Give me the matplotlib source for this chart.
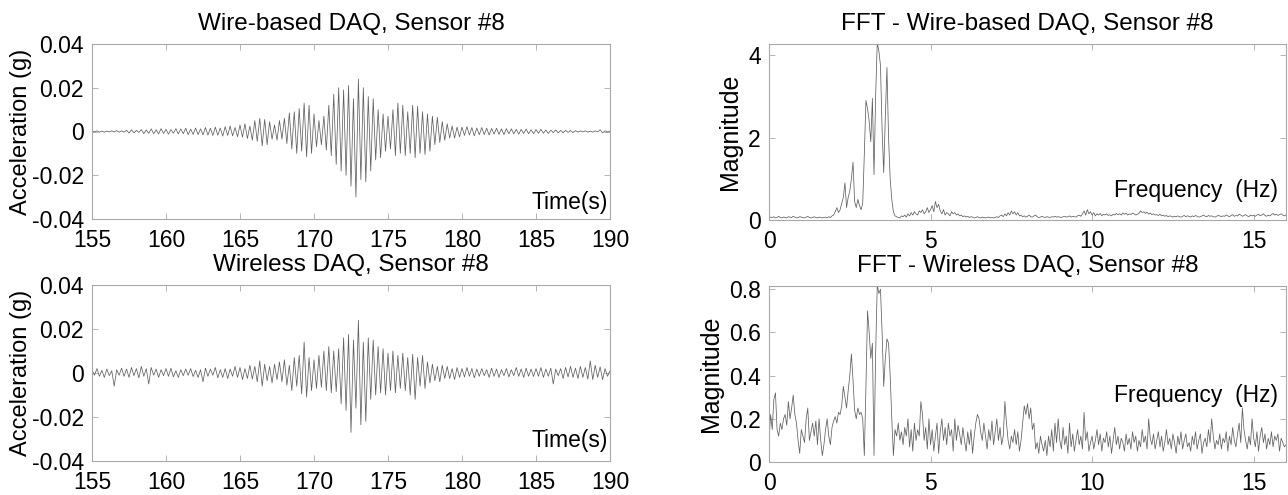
import numpy as np
import matplotlib
matplotlib.use("Agg")
from matplotlib import pyplot as plt

plt.rcParams['font.family'] = ['Liberation Sans', 'DejaVu Sans']
plt.rcParams['axes.unicode_minus'] = False

# acceleration peaks/troughs in milli-g, six per second from 155 s to 190 s
wire_mg = [
    0.3, -0.2, 0.3, -0.3, 0.2, -0.3,
    0.2, -0.2, 0.3, -0.2, 0.4, -0.3,
    0.3, -0.3, 0.6, -0.7, 0.8, -0.6,
    0.5, -0.4, 0.9, -1.0, 0.7, -0.8,
    1.2, -1.0, 0.8, -1.1, 1.3, -0.9,
    1.0, -1.2, 0.9, -0.8, 1.3, -1.1,
    1.2, -1.0, 1.5, -1.4, 1.1, -1.3,
    1.6, -1.4, 1.2, -1.5, 1.8, -1.6,
    1.5, -1.8, 2.0, -1.7, 1.6, -2.1,
    2.2, -1.8, 2.5, -2.0, 1.8, -2.4,
    3.0, -2.6, 3.5, -3.2, 2.5, -4.0,
    5.0, -4.5, 6.0, -6.5, 5.5, -6.0,
    4.5, -3.5, 3.0, -4.0, 5.0, -3.5,
    6.0, -5.5, 8.5, -8.0, 9.0, -10.0,
    10.5, -9.0, 13.0, -11.5, 12.0, -10.0,
    8.0, -7.0, 5.0, -6.0, 7.0, -8.5,
    12.0, -11.0, 17.0, -15.0, 20.0, -18.0,
    19.0, -20.0, 21.0, -25.0, 15.0, -30.0,
    24.0, -22.0, 20.0, -23.0, 16.0, -18.0,
    15.0, -13.0, 10.0, -12.0, 8.0, -9.0,
    7.0, -8.0, 10.0, -11.0, 13.0, -10.0,
    12.0, -11.0, 9.0, -10.0, 12.0, -12.0,
    11.5, -10.0, 9.0, -10.5, 8.0, -9.0,
    7.0, -6.0, 6.5, -5.0, 4.5, -4.0,
    3.5, -3.0, 2.5, -3.0, 2.0, -2.5,
    2.0, -1.8, 2.2, -1.6, 1.8, -2.0,
    1.6, -1.5, 1.8, -1.4, 1.5, -1.6,
    1.4, -1.2, 1.5, -1.3, 1.2, -1.4,
    1.3, -1.0, 1.2, -1.1, 1.0, -1.2,
    1.0, -0.9, 1.1, -1.0, 0.8, -1.0,
    0.9, -0.8, 1.0, -0.8, 0.7, -0.9,
    0.6, -0.5, 0.7, -0.6, 0.5, -0.6,
    0.5, -0.4, 0.4, -0.5, 0.4, -0.3,
    0.3, -0.2, 0.3, -0.3, 0.2, -0.3,
    0.3, -0.2, 0.8, -0.6, 0.3, -0.2,
    0.2,
]

wireless_mg = [
    1.5, -1.0, 2.0, -1.5, 1.2, -2.0,
    1.8, -1.2, 1.0, -6.0, 1.5, -1.0,
    2.2, -1.5, 1.8, -2.0, 2.5, -1.2,
    2.0, -2.2, 3.0, -1.5, 2.0, -5.0,
    2.5, -1.0, 1.8, -2.0, 1.5, -1.2,
    2.0, -1.5, 2.2, -1.8, 1.0, -2.0,
    1.5, -1.2, 1.8, -1.0, 2.0, -1.6,
    1.2, -2.0, 1.5, -4.0, 2.2, -1.5,
    1.8, -1.0, 2.5, -2.2, 1.5, -2.0,
    2.0, -2.5, 1.8, -1.5, 3.0, -2.0,
    2.5, -3.0, 2.0, -2.5, 3.5, -2.8,
    3.0, -4.0, 5.5, -6.0, 4.0, -3.5,
    3.0, -4.5, 4.0, -3.0, 5.0, -4.0,
    6.0, -5.5, 3.5, -8.0, 7.0, -6.0,
    8.0, -9.5, 14.0, -11.0, 7.0, -8.0,
    6.0, -7.0, 8.0, -6.5, 10.0, -8.0,
    12.0, -9.0, 10.0, -8.5, 11.0, -14.0,
    16.0, -17.0, 17.5, -27.0, 15.0, -16.0,
    24.0, -23.5, 14.0, -22.0, 16.0, -12.0,
    15.0, -10.0, 12.0, -9.0, 11.0, -10.0,
    9.0, -8.0, 10.0, -9.0, 8.0, -7.0,
    9.0, -8.0, 7.0, -10.0, 8.5, -12.0,
    7.0, -6.0, 8.0, -7.0, 5.0, -4.5,
    4.0, -3.5, 3.0, -4.0, 3.5, -2.5,
    3.0, -2.5, 2.0, -3.0, 2.5, -2.0,
    2.0, -1.8, 2.5, -1.5, 2.0, -2.2,
    1.8, -1.5, 2.0, -1.2, 1.5, -2.0,
    2.2, -1.5, 1.8, -2.0, 1.5, -1.2,
    2.0, -1.8, 1.5, -1.2, 2.5, -1.5,
    1.8, -2.0, 2.2, -1.5, 1.8, -1.6,
    2.0, -1.5, 2.5, -2.0, 1.8, -1.5,
    2.2, -5.0, 1.8, -1.2, 2.0, -2.5,
    2.5, -1.8, 3.0, -2.0, 2.2, -2.5,
    3.0, -2.0, 2.5, -2.8, 5.5, -3.0,
    3.5, -2.0, 2.8, -3.0, 2.0, -1.5,
    1.0,
]

# FFT magnitudes, 0 to 16 Hz every 0.05 Hz
fft_wire = [
    0.05, 0.07, 0.06, 0.08, 0.05, 0.06, 0.09, 0.06, 0.05, 0.07, 0.06, 0.05, 0.08, 0.07, 0.06, 0.09, 0.07, 0.05, 0.06, 0.08,
    0.07, 0.06, 0.05, 0.07, 0.09, 0.06, 0.05, 0.06, 0.08, 0.06, 0.05, 0.07, 0.06, 0.05, 0.06, 0.07, 0.05, 0.08, 0.06, 0.10,
    0.12, 0.20, 0.30, 0.18, 0.25, 0.40, 0.55, 0.90, 0.30, 0.55, 0.70, 1.00, 1.40, 0.45, 0.30, 0.50, 0.35, 0.25, 0.40, 1.60,
    2.90, 2.70, 2.40, 1.90, 2.95, 1.10, 3.00, 4.30, 4.10, 3.75, 2.20, 1.15, 2.50, 3.70, 2.00, 1.00, 0.50, 0.20, 0.10, 0.08,
    0.06, 0.05, 0.10, 0.08, 0.12, 0.07, 0.15, 0.10, 0.18, 0.12, 0.20, 0.15, 0.12, 0.22, 0.18, 0.25, 0.15, 0.20, 0.30, 0.18,
    0.25, 0.35, 0.20, 0.45, 0.30, 0.38, 0.22, 0.15, 0.25, 0.12, 0.18, 0.15, 0.10, 0.20, 0.15, 0.18, 0.12, 0.15, 0.10, 0.12,
    0.08, 0.10, 0.07, 0.09, 0.06, 0.08, 0.07, 0.05, 0.06, 0.08, 0.06, 0.05, 0.07, 0.06, 0.05, 0.06, 0.07, 0.05, 0.06, 0.05,
    0.06, 0.08, 0.06, 0.10, 0.12, 0.08, 0.15, 0.10, 0.18, 0.12, 0.22, 0.15, 0.20, 0.12, 0.18, 0.10, 0.12, 0.08, 0.10, 0.07,
    0.09, 0.12, 0.08, 0.07, 0.10, 0.12, 0.08, 0.06, 0.07, 0.09, 0.07, 0.06, 0.08, 0.07, 0.06, 0.08, 0.07, 0.09, 0.07, 0.08,
    0.07, 0.06, 0.08, 0.09, 0.07, 0.08, 0.10, 0.07, 0.09, 0.08, 0.07, 0.10, 0.12, 0.09, 0.15, 0.22, 0.12, 0.25, 0.15, 0.20,
    0.12, 0.18, 0.10, 0.15, 0.12, 0.16, 0.10, 0.14, 0.12, 0.15, 0.11, 0.13, 0.10, 0.14, 0.12, 0.16, 0.13, 0.15, 0.12, 0.17,
    0.14, 0.16, 0.12, 0.15, 0.13, 0.17, 0.15, 0.12, 0.14, 0.16, 0.22, 0.18, 0.20, 0.16, 0.19, 0.14, 0.17, 0.13, 0.15, 0.12,
    0.13, 0.11, 0.14, 0.10, 0.12, 0.09, 0.11, 0.08, 0.10, 0.09, 0.07, 0.09, 0.08, 0.10, 0.08, 0.07, 0.09, 0.11, 0.08, 0.10,
    0.09, 0.07, 0.10, 0.08, 0.11, 0.09, 0.07, 0.08, 0.10, 0.12, 0.09, 0.08, 0.11, 0.09, 0.10, 0.08, 0.07, 0.09, 0.11, 0.10,
    0.08, 0.10, 0.09, 0.12, 0.10, 0.08, 0.11, 0.13, 0.09, 0.11, 0.10, 0.14, 0.12, 0.09, 0.11, 0.13, 0.10, 0.08, 0.12, 0.10,
    0.11, 0.09, 0.12, 0.14, 0.10, 0.12, 0.15, 0.11, 0.09, 0.12, 0.10, 0.13, 0.16, 0.12, 0.14, 0.11, 0.13, 0.15, 0.12, 0.10,
    0.12,
]

fft_wireless = [
    0.10, 0.22, 0.15, 0.29, 0.32, 0.15, 0.12, 0.18, 0.15, 0.20, 0.22, 0.17, 0.28, 0.20, 0.25, 0.31, 0.22, 0.18, 0.10, 0.04,
    0.15, 0.12, 0.09, 0.20, 0.25, 0.10, 0.14, 0.18, 0.12, 0.19, 0.08, 0.20, 0.10, 0.03, 0.08, 0.15, 0.20, 0.12, 0.08, 0.16,
    0.19, 0.21, 0.18, 0.23, 0.22, 0.26, 0.35, 0.30, 0.25, 0.33, 0.40, 0.50, 0.38, 0.24, 0.20, 0.25, 0.22, 0.23, 0.20, 0.03,
    0.35, 0.70, 0.60, 0.48, 0.55, 0.03, 0.50, 0.82, 0.78, 0.80, 0.60, 0.35, 0.48, 0.57, 0.55, 0.40, 0.20, 0.03, 0.15, 0.12,
    0.18, 0.10, 0.14, 0.08, 0.16, 0.12, 0.20, 0.07, 0.15, 0.05, 0.18, 0.10, 0.15, 0.12, 0.28, 0.22, 0.10, 0.16, 0.06, 0.20,
    0.08, 0.15, 0.05, 0.12, 0.18, 0.04, 0.14, 0.20, 0.10, 0.16, 0.08, 0.18, 0.12, 0.15, 0.05, 0.20, 0.10, 0.17, 0.13, 0.08,
    0.16, 0.10, 0.05, 0.14, 0.08, 0.15, 0.04, 0.12, 0.18, 0.22, 0.20, 0.14, 0.10, 0.18, 0.12, 0.06, 0.15, 0.10, 0.19, 0.08,
    0.14, 0.20, 0.10, 0.16, 0.08, 0.12, 0.28, 0.18, 0.10, 0.06, 0.12, 0.09, 0.15, 0.08, 0.14, 0.05, 0.10, 0.18, 0.26, 0.22,
    0.27, 0.20, 0.25, 0.15, 0.18, 0.06, 0.09, 0.04, 0.12, 0.08, 0.05, 0.10, 0.03, 0.12, 0.07, 0.15, 0.05, 0.18, 0.09, 0.20,
    0.10, 0.06, 0.16, 0.08, 0.12, 0.04, 0.18, 0.07, 0.13, 0.05, 0.10, 0.15, 0.08, 0.12, 0.06, 0.23, 0.10, 0.14, 0.05, 0.09,
    0.12, 0.06, 0.10, 0.15, 0.08, 0.13, 0.05, 0.11, 0.09, 0.14, 0.07, 0.12, 0.04, 0.10, 0.16, 0.08, 0.12, 0.06, 0.11, 0.09,
    0.05, 0.13, 0.08, 0.11, 0.06, 0.14, 0.09, 0.12, 0.05, 0.10, 0.07, 0.15, 0.09, 0.12, 0.06, 0.20, 0.11, 0.08, 0.13, 0.06,
    0.10, 0.14, 0.07, 0.12, 0.05, 0.09, 0.15, 0.08, 0.11, 0.06, 0.13, 0.09, 0.04, 0.12, 0.08, 0.14, 0.06, 0.10, 0.13, 0.07,
    0.09, 0.05, 0.12, 0.08, 0.14, 0.06, 0.10, 0.13, 0.04, 0.09, 0.11, 0.07, 0.15, 0.09, 0.20, 0.12, 0.06, 0.10, 0.08, 0.13,
    0.06, 0.11, 0.09, 0.14, 0.05, 0.12, 0.08, 0.16, 0.10, 0.07, 0.13, 0.18, 0.09, 0.25, 0.15, 0.10, 0.06, 0.12, 0.08, 0.20,
    0.11, 0.07, 0.14, 0.05, 0.12, 0.16, 0.09, 0.13, 0.06, 0.11, 0.08, 0.14, 0.07, 0.12, 0.10, 0.13, 0.05, 0.11, 0.09, 0.07,
    0.08,
]

t_start, t_end = 155, 190
f_max = 16

wire = np.array(wire_mg) / 1000.0
wireless = np.array(wireless_mg) / 1000.0
t_wire = np.linspace(t_start, t_end, len(wire))
t_wireless = np.linspace(t_start, t_end, len(wireless))
f_wire = np.linspace(0, f_max, len(fft_wire))
f_wireless = np.linspace(0, f_max, len(fft_wireless))

line_col = '#606060'
frame_col = '#a8a8a8'
W, H = 1288, 495

fig = plt.figure(figsize=(W / 100, H / 100), dpi=100)

def box(left, top, right, bottom):
    return fig.add_axes([left / W, 1 - bottom / H, (right - left) / W, (bottom - top) / H])

def style(ax):
    for s in ax.spines.values():
        s.set_color(frame_col)
        s.set_linewidth(0.8)
    ax.tick_params(direction='in', length=4, width=0.6, color=frame_col,
                   top=True, right=True, labelsize=16.5)
    ax.tick_params(axis='x', pad=7)
    ax.tick_params(axis='y', pad=6)

ax1 = box(92, 44, 610, 219)
ax2 = box(92, 285, 610, 461)
ax3 = box(769, 44, 1286, 220)
ax4 = box(769, 286, 1286, 462)

for ax, t, y, title in [(ax1, t_wire, wire, 'Wire-based DAQ, Sensor #8'),
                        (ax2, t_wireless, wireless, 'Wireless DAQ, Sensor #8')]:
    ax.plot(t, y, color=line_col, lw=0.55)
    ax.set_xlim(t_start, t_end)
    ax.set_ylim(-0.04, 0.04)
    ax.set_xticks(np.arange(155, 191, 5))
    ax.set_yticks([-0.04, -0.02, 0, 0.02, 0.04])
    ax.set_yticklabels(['-0.04', '-0.02', '0', '0.02', '0.04'])
    ax.set_ylabel('Acceleration (g)', fontsize=17, labelpad=0)
    ax.set_title(title, fontsize=17.5, pad=10)
    style(ax)
ax1.text(0.995, 0.03, 'Time(s)', transform=ax1.transAxes, ha='right', va='bottom', fontsize=16.5)
ax2.text(0.995, 0.05, 'Time(s)', transform=ax2.transAxes, ha='right', va='bottom', fontsize=16.5)

ax3.plot(f_wire, fft_wire, color=line_col, lw=0.55)
ax3.set_ylim(0, 4.27)
ax3.set_yticks([0, 2, 4])
ax3.set_title('FFT - Wire-based DAQ, Sensor #8', fontsize=17.5, pad=10)
ax3.text(0.985, 0.17, 'Frequency  (Hz)', transform=ax3.transAxes, ha='right', va='center', fontsize=16.5)

ax4.plot(f_wireless, fft_wireless, color=line_col, lw=0.55)
ax4.set_ylim(0, 0.815)
ax4.set_yticks([0, 0.2, 0.4, 0.6, 0.8])
ax4.set_yticklabels(['0', '0.2', '0.4', '0.6', '0.8'])
ax4.set_title('FFT - Wireless DAQ, Sensor #8', fontsize=17.5, pad=10)
ax4.text(0.985, 0.38, 'Frequency  (Hz)', transform=ax4.transAxes, ha='right', va='center', fontsize=16.5)

for ax in (ax3, ax4):
    ax.set_xlim(0, f_max)
    ax.set_xticks([0, 5, 10, 15])
    ax.set_ylabel('Magnitude', fontsize=18, labelpad=4)
    style(ax)

fig.savefig('out.png', dpi=100)
